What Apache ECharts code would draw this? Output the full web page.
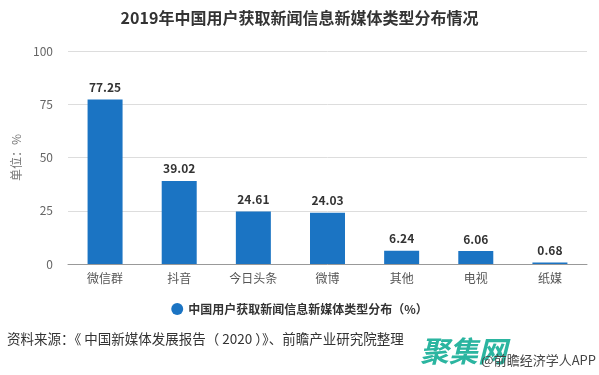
<!DOCTYPE html>
<html lang="zh">
<head>
<meta charset="UTF-8">
<title>2019年中国用户获取新闻信息新媒体类型分布情况</title>
<script src="https://cdn.jsdelivr.net/npm/echarts@6/dist/echarts.min.js"></script>
<style>
  html, body { margin: 0; padding: 0; background: #fff; }
  #chart { width: 599px; height: 375px; }
</style>
</head>
<body>
<div id="chart"></div>
<script>
    var categories = ['微信群', '抖音', '今日头条', '微博', '其他', '电视', '纸媒'];
    var shares = [77.25, 39.02, 24.61, 24.03, 6.24, 6.06, 0.68];
    var seriesName = '中国用户获取新闻信息新媒体类型分布（%）';

    var font = '"Noto Sans CJK SC", "Microsoft YaHei", sans-serif';
    var myChart = echarts.init(document.getElementById('chart'));

    var option = {
        animation: false,
        title: {
            text: '2019年中国用户获取新闻信息新媒体类型分布情况',
            left: 'center',
            top: 5,
            textStyle: { fontFamily: font, fontSize: 16, fontWeight: 'bold', color: '#333' }
        },
        legend: {
            data: [seriesName],
            bottom: 55,
            left: 'center',
            icon: 'circle',
            itemWidth: 12,
            itemHeight: 12,
            textStyle: { fontFamily: font, fontSize: 12, fontWeight: 'bold', color: '#333' }
        },
        grid: { left: 68, right: 12, top: 51, bottom: 111 },
        xAxis: {
            type: 'category',
            data: categories,
            axisTick: { alignWithLabel: true, length: 5, lineStyle: { color: '#999' } },
            axisLine: { lineStyle: { color: '#999' } },
            axisLabel: { fontFamily: font, fontSize: 12, color: '#555', margin: 8 }
        },
        yAxis: {
            type: 'value',
            min: 0, max: 100, interval: 25,
            name: '单位：%',
            nameLocation: 'middle',
            nameGap: 45,
            nameRotate: 90,
            nameTextStyle: { fontFamily: font, fontSize: 12, color: '#777' },
            axisLine: { show: false },
            axisTick: { show: false },
            axisLabel: { fontFamily: font, fontSize: 12, color: '#666', margin: 15 },
            splitLine: { lineStyle: { color: '#ddd' } }
        },
        series: [{
            name: seriesName,
            type: 'bar',
            data: shares,
            barWidth: 35,
            itemStyle: { color: '#1b74c3' },
            label: {
                show: true,
                position: 'top',
                distance: 6,
                formatter: function (p) { return p.value.toFixed(2); },
                fontFamily: font, fontSize: 12, fontWeight: 'bold', color: '#333'
            }
        }],
        graphic: [
            {
                type: 'text', left: 7, top: 332,
                style: { text: '资料来源：《 中国新媒体发展报告（ 2020 ）》、前瞻产业研究院整理', font: '13.5px ' + font, fill: '#333' }
            },
            {
                type: 'text', left: 420, top: 336,
                style: { text: '聚集网', font: 'italic bold 29px ' + font, fill: '#2bb5a0' }
            },
            {
                type: 'text', right: 3, top: 354,
                style: { text: '@前瞻经济学人APP', font: '13px ' + font, fill: '#444' }
            }
        ]
    };
    myChart.setOption(option);
</script>
</body>
</html>
